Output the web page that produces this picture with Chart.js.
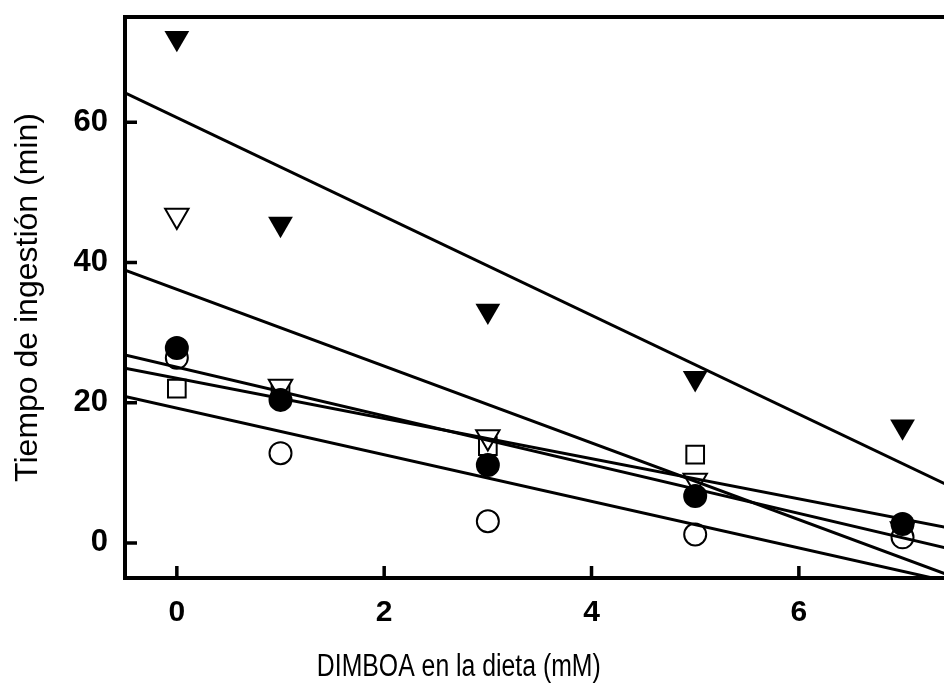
<!DOCTYPE html>
<html>
<head>
<meta charset="utf-8">
<script src="https://cdn.jsdelivr.net/npm/chart.js@4/dist/chart.umd.min.js"></script>
<style>
  html, body { margin: 0; padding: 0; background: #fff; }
  #wrap { width: 944px; height: 686px; }
</style>
</head>
<body>
<div id="wrap"><canvas id="c" width="944" height="686"></canvas></div>
<script>
// ---------- Data ----------
const doses        = [0, 1, 3, 5, 7];          // DIMBOA en la dieta (mM)
const filledTri    = [72.0, 45.5, 33.1, 23.5, 16.6];
const openTri      = [46.7, 22.3, 15.1, 8.9, 2.0];
const filledCircle = [27.8, 20.4, 11.1, 6.7, 2.7];
const openCircle   = [26.4, 12.8, 3.1, 1.2, 0.8];
const openSquare   = [22.0, 21.5, 13.8, 12.6, 1.5];

// fitted lines, value at each end of lineX
const lineX            = [-0.5, 7.5];
const lineFilledTri    = [64.2, 7.8];
const lineOpenTri      = [38.9, -4.9];
const lineFilledCircle = [26.8, -1.0];
const lineOpenSquare   = [24.9, 2.0];
const lineOpenCircle   = [20.9, -5.7];

const xTicks = [0, 2, 4, 6];
const yTicks = [0, 20, 40, 60];

// ---------- Helpers ----------
const pts = (xs, ys) => xs.map((x, i) => ({x, y: ys[i]}));

function markers(label, ys, style, filled, radius, rotation){
  return {
    type: 'scatter', label, data: pts(doses, ys),
    pointStyle: style, pointRadius: radius, pointHoverRadius: radius,
    pointRotation: rotation || 0,
    pointBackgroundColor: filled ? '#000' : '#fff',
    pointBorderColor: '#000', pointBorderWidth: filled ? 0 : 2,
    showLine: false
  };
}

function fitLine(label, ys){
  return {
    type: 'line', label, data: pts(lineX, ys),
    borderColor: '#000', borderWidth: 3, pointRadius: 0, fill: false, tension: 0
  };
}

// frame top + inward tick marks + x axis title
const frame = {
  id: 'frame',
  afterDraw(chart){
    const {ctx, chartArea: a, scales: {x, y}} = chart;
    ctx.save();
    ctx.strokeStyle = '#000';
    ctx.lineWidth = 4;
    ctx.beginPath();
    ctx.moveTo(a.left - 2, a.top);
    ctx.lineTo(a.right, a.top);
    ctx.stroke();

    ctx.lineWidth = 3.5;
    ctx.beginPath();
    xTicks.forEach(v => {
      const px = x.getPixelForValue(v);
      ctx.moveTo(px, a.bottom);
      ctx.lineTo(px, a.bottom - 12);
    });
    yTicks.forEach(v => {
      const py = y.getPixelForValue(v);
      ctx.moveTo(a.left, py);
      ctx.lineTo(a.left + 12, py);
    });
    ctx.stroke();

    // x title (the original type is a little condensed)
    ctx.fillStyle = '#000';
    ctx.font = "31px 'Liberation Sans', Arial, sans-serif";
    ctx.textAlign = 'center';
    ctx.textBaseline = 'alphabetic';
    ctx.translate(x.getPixelForValue(2.72), 676);
    ctx.scale(0.8, 1);
    ctx.fillText('DIMBOA en la dieta (mM)', 0, 0);
    ctx.restore();
  }
};

// ---------- Chart ----------
Chart.defaults.font.family = "'Liberation Sans', Arial, Helvetica, sans-serif";
Chart.defaults.color = '#000';

new Chart(document.getElementById('c'), {
  type: 'scatter',
  data: {
    datasets: [
      fitLine('▼ ajuste', lineFilledTri),
      fitLine('▽ ajuste', lineOpenTri),
      fitLine('● ajuste', lineFilledCircle),
      fitLine('□ ajuste', lineOpenSquare),
      fitLine('○ ajuste', lineOpenCircle),
      markers('●', filledCircle, 'circle', true, 12),
      markers('○', openCircle, 'circle', false, 11),
      markers('▽', openTri, 'triangle', false, 13.5, 180),
      markers('□', openSquare, 'rect', false, 12.5),
      markers('▼', filledTri, 'triangle', true, 14.3, 180)
    ]
  },
  options: {
    responsive: false,
    animation: false,
    layout: { autoPadding: false, padding: { top: 17, right: 0, bottom: 0, left: 0 } },
    plugins: { legend: { display: false }, tooltip: { enabled: false } },
    scales: {
      x: {
        type: 'linear', min: -0.5, max: 7.4,
        afterFit: s => { s.height = 108; s.paddingLeft = 0; s.paddingRight = 0; },
        afterBuildTicks: s => { s.ticks = xTicks.map(v => ({value: v})); },
        grid: { display: false, drawTicks: false },
        border: { display: true, color: '#000', width: 4 },
        ticks: { padding: 17, font: { size: 30, weight: 'bold' }, color: '#000' },
        title: { display: false }
      },
      y: {
        type: 'linear', min: -5, max: 75,
        afterFit: s => { s.width = 125; s.paddingTop = 0; s.paddingBottom = 0; },
        afterBuildTicks: s => { s.ticks = yTicks.map(v => ({value: v})); },
        grid: { display: false, drawTicks: false },
        border: { display: true, color: '#000', width: 4 },
        ticks: { padding: 17, font: { size: 31, weight: 'bold' }, color: '#000' },
        title: {
          display: true, text: 'Tiempo de ingestión (min)',
          font: { size: 32 }, color: '#000', padding: { top: 9, bottom: 0 }
        }
      }
    }
  },
  plugins: [frame]
});
</script>
</body>
</html>
